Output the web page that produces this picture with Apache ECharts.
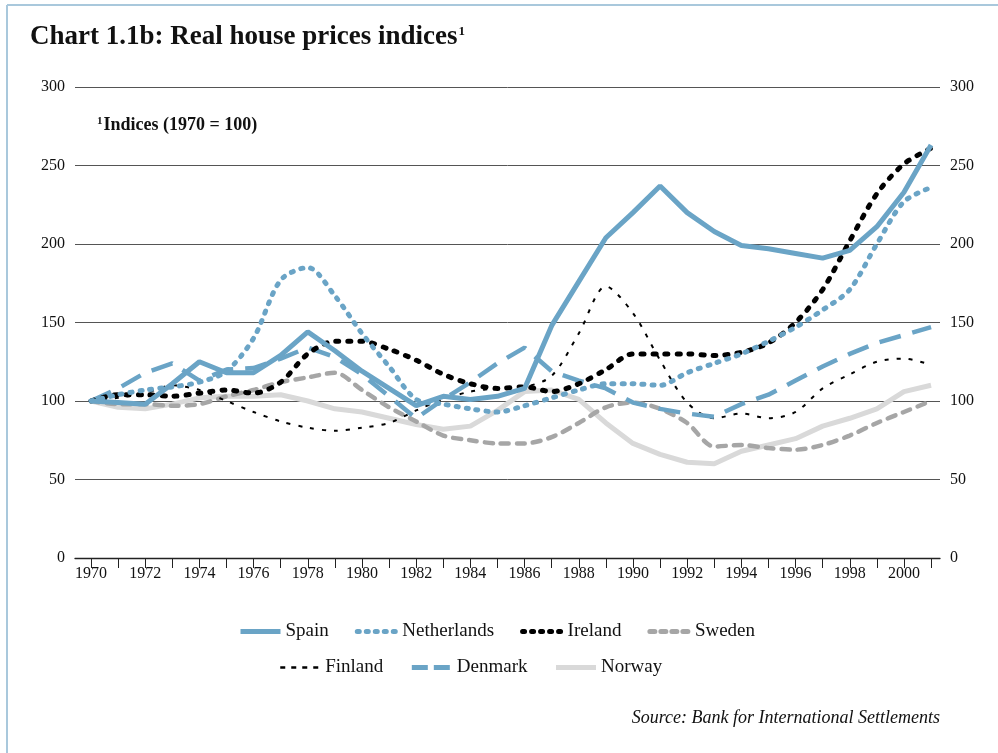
<!DOCTYPE html>
<html>
<head>
<meta charset="utf-8">
<script src="https://cdn.jsdelivr.net/npm/echarts@6/dist/echarts.min.js"></script>
<style>
  html, body { margin: 0; padding: 0; background: #fff; }
  #chart { width: 998px; height: 753px; }
</style>
</head>
<body>
<div id="chart"></div>
<script>
// years 1970 .. 2001
const years = []
for (let y = 1970; y <= 2001; y++) years.push(y)
const labelYears = years.filter(y => y % 2 === 0 && y <= 2000)

// values (1970 = 100)
const spain = [100, 99, 98, 111, 125, 118, 118, 129, 144, 132, 119, 108, 97, 103, 101, 103, 108,
  148, 176, 204, 220, 237, 220, 208, 199, 197, 194, 191, 196, 211, 233, 263]
const netherlands = [100, 104, 107, 109, 112, 119, 140, 177, 185, 167, 143, 122, 101, 98, 95, 93, 97,
  102, 107, 111, 111, 110, 118, 124, 130, 138, 147, 158, 171, 200, 227, 236]
const ireland = [100, 104, 104, 103, 105, 107, 105, 112, 130, 138, 138, 133, 126, 117, 111, 108, 109,
  106, 111, 120, 130, 130, 130, 129, 131, 137, 150, 171, 202, 232, 251, 261]
const sweden = [100, 98, 98, 97, 98, 103, 107, 112, 115, 118, 107, 96, 87, 78, 75, 73, 73,
  77, 86, 96, 99, 95, 86, 71, 72, 70, 69, 72, 78, 86, 93, 100]
const finland = [100, 102, 105, 110, 107, 100, 93, 87, 83, 81, 83, 86, 94, 101, 106, 108, 109,
  116, 143, 173, 156, 126, 99, 89, 92, 89, 93, 108, 117, 125, 127, 123]
const denmark = [100, 108, 118, 124, 113, 120, 121, 127, 134, 128, 117, 103, 89, 101, 112, 124, 134,
  119, 113, 108, 99, 95, 92, 90, 98, 104, 113, 122, 130, 137, 142, 147]
const norway = [100, 96, 95, 98, 102, 103, 103, 104, 100, 95, 93, 89, 85, 82, 84, 94, 106,
  107, 101, 86, 73, 66, 61, 60, 68, 72, 76, 84, 89, 95, 106, 110]

const blue = '#6aa4c6'
const serif = '"Liberation Serif", "DejaVu Serif", serif'

function pairs(vals) {
  return vals.map((v, i) => [years[i], v])
}

// legend entry with a thicker sample line
function entry(name, width, type) {
  return { name: name, lineStyle: { width: width, type: type || 'inherit' } }
}

const chart = echarts.init(document.getElementById('chart'))

const legendBase = {
  itemWidth: 40, itemHeight: 14, itemGap: 26,
  itemStyle: { opacity: 0 },
  textStyle: { fontFamily: serif, fontSize: 19, color: '#111' }
}

const option = {
  backgroundColor: '#fff',
  animation: false,
  title: {
    left: 25,
    top: 19,
    text: '{t|Chart 1.1b: Real house prices indices}{s|1}',
    textStyle: {
      rich: {
        t: { fontFamily: serif, fontSize: 27, fontWeight: 'bold', color: '#111' },
        s: { fontFamily: serif, fontSize: 13, fontWeight: 'bold', color: '#111', padding: [0, 0, 12, 1] }
      }
    }
  },
  grid: { left: 75, right: 58, top: 87, bottom: 195 },
  xAxis: {
    type: 'value',
    min: 1969.41,
    max: 2001.33,
    axisLine: { lineStyle: { color: '#222', width: 1.3 } },
    axisTick: { customValues: years, length: 10, lineStyle: { color: '#222' } },
    axisLabel: {
      customValues: labelYears,
      fontFamily: serif, fontSize: 16, color: '#111', margin: 8,
      formatter: v => String(v)
    },
    splitLine: { show: false }
  },
  yAxis: [
    {
      type: 'value', min: 0, max: 300, interval: 50,
      axisLine: { show: false }, axisTick: { show: false },
      axisLabel: { fontFamily: serif, fontSize: 16, color: '#111', margin: 10 },
      splitLine: { lineStyle: { color: '#555', width: 1 } }
    },
    {
      type: 'value', min: 0, max: 300, interval: 50, position: 'right',
      axisLine: { show: false }, axisTick: { show: false },
      axisLabel: { fontFamily: serif, fontSize: 16, color: '#111', margin: 10 },
      splitLine: { show: false }
    }
  ],
  legend: [
    Object.assign({
      left: 233, top: 617,
      data: [entry('Spain', 5), entry('Netherlands', 5, [2, 7]), entry('Ireland', 5, [2, 7]), entry('Sweden', 5, [5, 6])]
    }, legendBase),
    Object.assign({
      left: 274, top: 653,
      data: [entry('Finland', 2.5, [5, 6]), entry('Denmark', 5, [16, 6]), entry('Norway', 5)]
    }, legendBase)
  ],
  graphic: [
    { type: 'line', shape: { x1: 7, y1: 5, x2: 998, y2: 5 }, style: { stroke: '#a9c8dc', lineWidth: 2 } },
    { type: 'line', shape: { x1: 7, y1: 5, x2: 7, y2: 753 }, style: { stroke: '#a9c8dc', lineWidth: 2 } },
    {
      type: 'text', left: 97, top: 116,
      style: {
        text: '{s|1}{t|Indices (1970 = 100)}',
        rich: {
          s: { fontFamily: serif, fontSize: 11, fontWeight: 'bold', fill: '#111', padding: [0, 1, 8, 0] },
          t: { fontFamily: serif, fontSize: 18, fontWeight: 'bold', fill: '#111' }
        }
      }
    },
    {
      type: 'text', right: 58, top: 709,
      style: {
        text: 'Source: Bank for International Settlements',
        font: 'italic 18px ' + serif, fill: '#111'
      }
    }
  ],
  series: [
    {
      name: 'Norway', type: 'line', symbol: 'none', data: pairs(norway), z: 1,
      lineStyle: { color: '#d9d9d9', width: 5 }, itemStyle: { color: '#d9d9d9' }
    },
    {
      name: 'Sweden', type: 'line', symbol: 'none', smooth: 0.3, data: pairs(sweden), z: 2,
      lineStyle: { color: '#a6a6a6', width: 4.5, type: [8, 8], cap: 'round' }, itemStyle: { color: '#a6a6a6' }
    },
    {
      name: 'Finland', type: 'line', symbol: 'none', smooth: 0.3, data: pairs(finland), z: 3,
      lineStyle: { color: '#000', width: 2, type: [4, 8] }, itemStyle: { color: '#000' }
    },
    {
      name: 'Denmark', type: 'line', symbol: 'none', data: pairs(denmark), z: 4,
      lineStyle: { color: blue, width: 4.5, type: [22, 12] }, itemStyle: { color: blue }
    },
    {
      name: 'Ireland', type: 'line', symbol: 'none', smooth: 0.3, data: pairs(ireland), z: 5,
      lineStyle: { color: '#000', width: 5, type: [3, 9], cap: 'round' }, itemStyle: { color: '#000' }
    },
    {
      name: 'Netherlands', type: 'line', symbol: 'none', smooth: 0.3, data: pairs(netherlands), z: 6,
      lineStyle: { color: blue, width: 5, type: [2, 8], cap: 'round' }, itemStyle: { color: blue }
    },
    {
      name: 'Spain', type: 'line', symbol: 'none', data: pairs(spain), z: 7,
      lineStyle: { color: blue, width: 5 }, itemStyle: { color: blue }
    }
  ]
}

chart.setOption(option)
</script>
</body>
</html>
